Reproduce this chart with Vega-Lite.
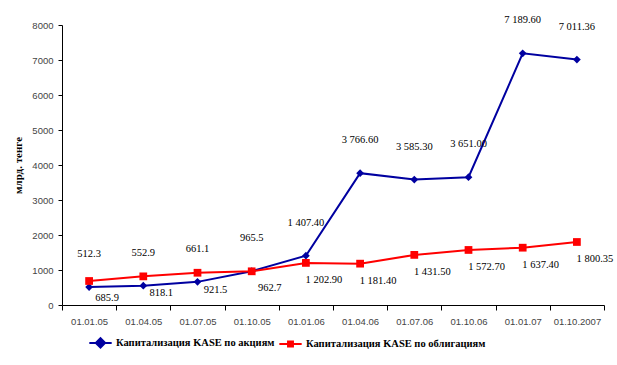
{
  "$schema": "https://vega.github.io/schema/vega-lite/v6.json",
  "width": 542,
  "height": 280,
  "autosize": {"type": "none"},
  "padding": {"left": 62, "top": 25, "right": 13, "bottom": 60},
  "background": "white",
  "config": {
    "view": {"stroke": null},
    "axis": {"grid": false, "domainColor": "#000", "tickColor": "#000", "labelFont": "Liberation Sans", "labelFontSize": 9.5, "labelColor": "#444"}
  },
  "data": {
    "values": [
      {"date": "01.01.05", "series": "Капитализация KASE по акциям", "value": 512.3, "label": "512.3"},
      {"date": "01.04.05", "series": "Капитализация KASE по акциям", "value": 552.9, "label": "552.9"},
      {"date": "01.07.05", "series": "Капитализация KASE по акциям", "value": 661.1, "label": "661.1"},
      {"date": "01.10.05", "series": "Капитализация KASE по акциям", "value": 965.5, "label": "965.5"},
      {"date": "01.01.06", "series": "Капитализация KASE по акциям", "value": 1407.4, "label": "1 407.40"},
      {"date": "01.04.06", "series": "Капитализация KASE по акциям", "value": 3766.6, "label": "3 766.60"},
      {"date": "01.07.06", "series": "Капитализация KASE по акциям", "value": 3585.3, "label": "3 585.30"},
      {"date": "01.10.06", "series": "Капитализация KASE по акциям", "value": 3651.0, "label": "3 651.00"},
      {"date": "01.01.07", "series": "Капитализация KASE по акциям", "value": 7189.6, "label": "7 189.60"},
      {"date": "01.10.2007", "series": "Капитализация KASE по акциям", "value": 7011.36, "label": "7 011.36"},
      {"date": "01.01.05", "series": "Капитализация KASE по облигациям", "value": 685.9, "label": "685.9"},
      {"date": "01.04.05", "series": "Капитализация KASE по облигациям", "value": 818.1, "label": "818.1"},
      {"date": "01.07.05", "series": "Капитализация KASE по облигациям", "value": 921.5, "label": "921.5"},
      {"date": "01.10.05", "series": "Капитализация KASE по облигациям", "value": 962.7, "label": "962.7"},
      {"date": "01.01.06", "series": "Капитализация KASE по облигациям", "value": 1202.9, "label": "1 202.90"},
      {"date": "01.04.06", "series": "Капитализация KASE по облигациям", "value": 1181.4, "label": "1 181.40"},
      {"date": "01.07.06", "series": "Капитализация KASE по облигациям", "value": 1431.5, "label": "1 431.50"},
      {"date": "01.10.06", "series": "Капитализация KASE по облигациям", "value": 1572.7, "label": "1 572.70"},
      {"date": "01.01.07", "series": "Капитализация KASE по облигациям", "value": 1637.4, "label": "1 637.40"},
      {"date": "01.10.2007", "series": "Капитализация KASE по облигациям", "value": 1800.35, "label": "1 800.35"}
    ]
  },
  "encoding": {
    "x": {
      "field": "date", "type": "ordinal", "sort": null,
      "scale": {"type": "band", "paddingInner": 0, "paddingOuter": 0},
      "axis": {"title": null, "labelAngle": 0, "tickBand": "extent", "tickSize": 5, "labelPadding": 6, "domainWidth": 1}
    },
    "y": {
      "field": "value", "type": "quantitative",
      "scale": {"domain": [0, 8000], "nice": false},
      "axis": {"values": [0,1000,2000,3000,4000,5000,6000,7000,8000], "format": "d", "title": "млрд. тенге", "titleFont": "Liberation Serif", "titleFontSize": 11, "titleFontWeight": "bold", "titleColor": "#000", "tickSize": 4, "labelPadding": 5, "titlePadding": 8}
    },
    "color": {
      "field": "series", "type": "nominal",
      "scale": {"domain": ["Капитализация KASE по акциям", "Капитализация KASE по облигациям"], "range": ["#0000A0", "#FF0000"]},
      "legend": {
        "title": null, "orient": "none", "legendX": 26, "legendY": 305, "direction": "horizontal",
        "labelFont": "Liberation Serif", "labelFontSize": 10.5, "labelFontWeight": "bold", "labelColor": "#000", "labelLimit": 400,
        "symbolSize": 500, "columnPadding": 0, "labelOffset": 3,
        "encode": {"symbols": {"update": {
          "shape": {"signal": "datum.value === 'Капитализация KASE по акциям' ? 'M-1,0H-0.42L0,-0.42L0.42,0H1M0.42,0L0,0.42L-0.42,0Z' : 'M-1,0H1M-0.22,-0.22H0.22V0.22H-0.22Z'"},
          "fill": {"signal": "datum.value === 'Капитализация KASE по акциям' ? '#0000A0' : '#FF0000'"},
          "stroke": {"signal": "datum.value === 'Капитализация KASE по акциям' ? '#0000A0' : '#FF0000'"},
          "strokeWidth": {"value": 2},
          "opacity": {"value": 1}
        }}}
      }
    }
  },
  "layer": [
    {
      "mark": {"type": "line", "strokeWidth": 2}
    },
    {
      "mark": {"type": "point", "filled": true, "size": 60, "opacity": 1},
      "encoding": {
        "shape": {
          "condition": {"test": "datum.series === 'Капитализация KASE по акциям'", "value": "diamond"},
          "value": "square"
        }
      }
    },
    {
      "transform": [{"filter": "datum.series == 'Капитализация KASE по акциям'"}],
      "mark": {"type": "text", "dy": -33, "font": "Liberation Serif", "fontSize": 10.5, "color": "#000"},
      "encoding": {"text": {"field": "label"}, "color": {"value": "#000"}}
    },
    {
      "transform": [{"filter": "datum.series == 'Капитализация KASE по облигациям'"}],
      "mark": {"type": "text", "dx": 18, "dy": 17, "font": "Liberation Serif", "fontSize": 10.5, "color": "#000"},
      "encoding": {"text": {"field": "label"}, "color": {"value": "#000"}}
    }
  ]
}
